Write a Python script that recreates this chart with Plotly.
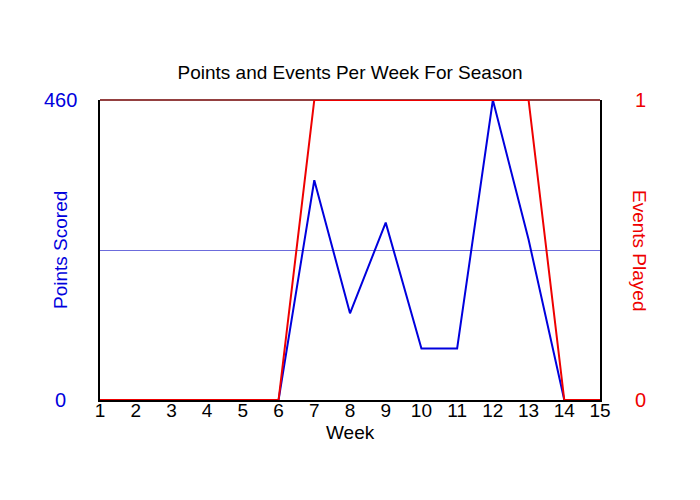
import plotly.graph_objects as go
from plotly.subplots import make_subplots

# data
weeks = list(range(1, 16))
points = [0, 0, 0, 0, 0, 0, 337, 133, 272, 79, 79, 460, 246, 0, 0]
events = [0, 0, 0, 0, 0, 0, 1, 1, 1, 1, 1, 1, 1, 0, 0]

pts_ticks = [0, 460]
ev_ticks = [0, 1]
mid_grid = [230]

FONT = "Liberation Sans, Arial, sans-serif"
BLUE = "#0000dd"
RED = "#ee0000"

fig = make_subplots(specs=[[{"secondary_y": True}]])

fig.add_trace(go.Scatter(x=weeks, y=points, mode="lines",
                         line=dict(color=BLUE, width=2), name="Points Scored"),
              secondary_y=False)
fig.add_trace(go.Scatter(x=weeks, y=events, mode="lines",
                         line=dict(color=RED, width=2), name="Events Played"),
              secondary_y=True)

# tick labels as annotations (centered like the original)
annos = []
for v in pts_ticks:
    annos.append(dict(x=-0.08, xref="paper", y=v, yref="y", text=str(v),
                      showarrow=False, xanchor="center", yanchor="middle",
                      font=dict(color=BLUE, size=20, family=FONT)))
for v in ev_ticks:
    annos.append(dict(x=1.08, xref="paper", y=v, yref="y2", text=str(v),
                      showarrow=False, xanchor="center", yanchor="middle",
                      font=dict(color=RED, size=20, family=FONT)))
annos.append(dict(x=-0.08, xref="paper", y=0.5, yref="paper", text="Points Scored",
                  textangle=-90, showarrow=False, xanchor="center", yanchor="middle",
                  font=dict(color=BLUE, size=19, family=FONT)))
annos.append(dict(x=1.08, xref="paper", y=0.5, yref="paper", text="Events Played",
                  textangle=90, showarrow=False, xanchor="center", yanchor="middle",
                  font=dict(color=RED, size=19, family=FONT)))
annos.append(dict(x=0.5, xref="paper", y=-0.107, yref="paper", text="Week",
                  showarrow=False, xanchor="center", yanchor="middle",
                  font=dict(color="black", size=19, family=FONT)))

# page body has an 8px margin, so shift the margins to compensate
fig.update_layout(
    width=700, height=500,
    margin=dict(l=92, r=108, t=92, b=108),
    paper_bgcolor="white", plot_bgcolor="white",
    showlegend=False,
    font=dict(family=FONT, color="black"),
    title=dict(text="Points and Events Per Week For Season", x=0.4886, y=0.872,
               xanchor="center", yanchor="middle",
               font=dict(size=19, family=FONT, color="black")),
    annotations=annos,
    shapes=[dict(type="line", xref="paper", yref="paper", x0=0, x1=1, y0=1, y1=1,
                 line=dict(color="#700000", width=1.5), layer="below")],
)

fig.update_xaxes(range=[1, 15], tickvals=weeks, showgrid=False, zeroline=False,
                 domain=[0, 1], automargin=False, layer="below traces",
                 showline=True, linecolor="black", linewidth=1.5,
                 ticks="", ticklabelstandoff=-8,
                 tickfont=dict(size=19, color="black", family=FONT))
fig.update_yaxes(range=[0, 460], tickvals=mid_grid, showticklabels=False,
                 showgrid=True, gridcolor="#6c6cdc", gridwidth=1, zeroline=False,
                 automargin=False, layer="below traces",
                 showline=True, linecolor="black", linewidth=1.5,
                 secondary_y=False)
fig.update_yaxes(range=[0, 1], showticklabels=False, showgrid=False, zeroline=False,
                 automargin=False, layer="below traces",
                 showline=True, linecolor="black", linewidth=1.5,
                 secondary_y=True)

fig.write_html("out.html")
